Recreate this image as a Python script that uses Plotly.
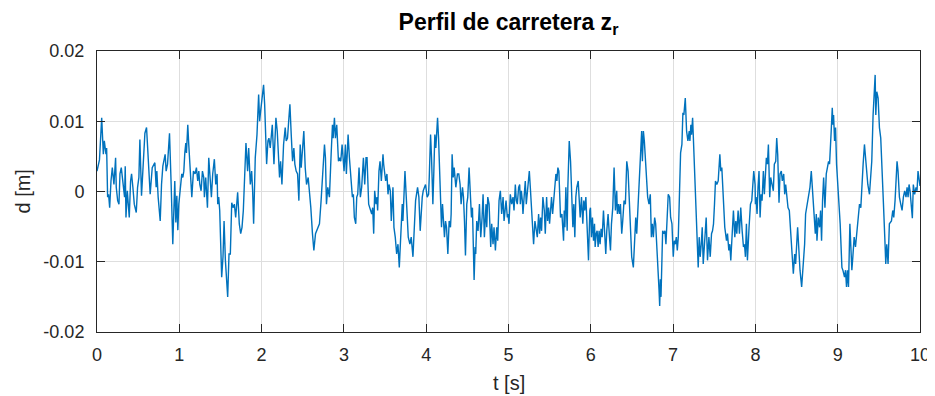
import plotly.graph_objects as go

# time [s]
t_s = [0.0, 0.03, 0.057, 0.077, 0.089, 0.109, 0.117, 0.129, 0.141, 0.154, 0.170, 0.186, 0.206, 0.226, 0.234, 0.251, 0.267, 0.279, 0.295, 0.311, 0.323, 0.335, 0.343, 0.352, 0.368, 0.392, 0.408, 0.420, 0.436, 0.453, 0.477, 0.493, 0.509, 0.521, 0.541, 0.566, 0.582, 0.602, 0.614, 0.630, 0.646, 0.671, 0.703, 0.719, 0.727, 0.743, 0.768, 0.784, 0.800, 0.828, 0.840, 0.857, 0.881, 0.901, 0.921, 0.945, 0.958, 0.970, 0.982,
       0.994, 1.014, 1.030, 1.043, 1.055, 1.067, 1.079, 1.087, 1.103, 1.115, 1.131, 1.152, 1.172, 1.192, 1.208, 1.224, 1.237, 1.249, 1.265, 1.281, 1.297, 1.305, 1.321, 1.342, 1.358, 1.374, 1.390, 1.406, 1.426, 1.443, 1.459, 1.467, 1.479, 1.491, 1.503, 1.515, 1.531, 1.544, 1.560, 1.588, 1.604, 1.620, 1.637, 1.653, 1.669, 1.685, 1.709, 1.729, 1.746, 1.762, 1.778, 1.794, 1.810, 1.830, 1.843, 1.863, 1.879, 1.891, 1.903, 1.923, 1.944, 1.964,
       1.976, 1.988, 2.008, 2.024, 2.037, 2.049, 2.061, 2.077, 2.089, 2.105, 2.130, 2.150, 2.174, 2.190, 2.206, 2.218, 2.231, 2.247, 2.267, 2.287, 2.299, 2.315, 2.332, 2.344, 2.360, 2.376, 2.392, 2.404, 2.420, 2.437, 2.453, 2.469, 2.481, 2.513, 2.530, 2.546, 2.566, 2.578, 2.598, 2.618, 2.635, 2.655, 2.683, 2.703, 2.723, 2.764, 2.776, 2.788, 2.804, 2.824, 2.845, 2.861, 2.869, 2.885, 2.897, 2.913, 2.934, 2.950, 2.962, 2.978,
       3.002, 3.018, 3.030, 3.051, 3.067, 3.079, 3.091, 3.103, 3.115, 3.127, 3.144, 3.156, 3.168, 3.184, 3.200, 3.216, 3.237, 3.253, 3.269, 3.281, 3.301, 3.317, 3.338, 3.350, 3.362, 3.374, 3.390, 3.402, 3.410, 3.426, 3.439, 3.455, 3.475, 3.483, 3.507, 3.523, 3.536, 3.548, 3.564, 3.576, 3.596, 3.608, 3.624, 3.641, 3.657, 3.673, 3.689, 3.701, 3.709, 3.717, 3.742, 3.762, 3.782, 3.802, 3.818, 3.839, 3.855, 3.871, 3.895, 3.911, 3.927, 3.940, 3.952, 3.964, 3.976, 3.992,
       4.012, 4.029, 4.037, 4.053, 4.065, 4.081, 4.093, 4.105, 4.117, 4.138, 4.150, 4.162, 4.174, 4.186, 4.198, 4.210, 4.222, 4.235, 4.247, 4.263, 4.279, 4.295, 4.303, 4.315, 4.328, 4.340, 4.360, 4.380, 4.396, 4.412, 4.424, 4.441, 4.453, 4.465, 4.477, 4.493, 4.505, 4.521, 4.538, 4.550, 4.562, 4.570, 4.582, 4.594, 4.602, 4.614, 4.630, 4.647, 4.663, 4.679, 4.691, 4.707, 4.727, 4.736, 4.748, 4.764, 4.784, 4.796, 4.812, 4.824, 4.841, 4.857, 4.869, 4.885, 4.901, 4.917, 4.934, 4.946, 4.970, 4.986,
       4.994, 5.006, 5.022, 5.039, 5.055, 5.067, 5.083, 5.095, 5.107, 5.123, 5.136, 5.144, 5.156, 5.168, 5.176, 5.192, 5.204, 5.216, 5.233, 5.253, 5.265, 5.277, 5.289, 5.305, 5.321, 5.338, 5.350, 5.366, 5.378, 5.390, 5.402, 5.418, 5.435, 5.447, 5.463, 5.475, 5.487, 5.499, 5.511, 5.523, 5.536, 5.552, 5.564, 5.576, 5.588, 5.600, 5.612, 5.620, 5.632, 5.649, 5.669, 5.677, 5.685, 5.697, 5.713, 5.721, 5.738, 5.754, 5.766, 5.782, 5.794, 5.806, 5.818, 5.830, 5.847, 5.859, 5.871, 5.887, 5.903, 5.915, 5.927, 5.940, 5.952, 5.972, 5.988,
       5.996, 6.008, 6.020, 6.033, 6.045, 6.053, 6.065, 6.077, 6.089, 6.101, 6.113, 6.125, 6.138, 6.154, 6.166, 6.182, 6.194, 6.210, 6.227, 6.239, 6.251, 6.267, 6.283, 6.299, 6.315, 6.323, 6.336, 6.348, 6.360, 6.376, 6.388, 6.404, 6.420, 6.437, 6.453, 6.469, 6.481, 6.497, 6.517, 6.534, 6.546, 6.558, 6.574, 6.582, 6.594, 6.606, 6.618, 6.627, 6.639, 6.651, 6.671, 6.691, 6.707, 6.723, 6.736, 6.748, 6.760, 6.776, 6.788, 6.804, 6.820, 6.829, 6.837, 6.845, 6.853, 6.865, 6.873, 6.889, 6.901, 6.913, 6.929, 6.941, 6.958, 6.970, 6.986,
       6.994, 7.002, 7.014, 7.026, 7.039, 7.051, 7.063, 7.075, 7.083, 7.091, 7.107, 7.119, 7.131, 7.148, 7.164, 7.180, 7.196, 7.204, 7.216, 7.224, 7.237, 7.249, 7.261, 7.277, 7.293, 7.305, 7.317, 7.329, 7.342, 7.354, 7.366, 7.378, 7.390, 7.402, 7.418, 7.435, 7.451, 7.467, 7.479, 7.491, 7.503, 7.515, 7.531, 7.548, 7.568, 7.580, 7.592, 7.604, 7.616, 7.628, 7.649, 7.661, 7.677, 7.689, 7.701, 7.717, 7.733, 7.750, 7.762, 7.774, 7.790, 7.806, 7.822, 7.839, 7.855, 7.867, 7.879, 7.891, 7.903, 7.923, 7.940, 7.956, 7.980, 7.996,
       8.000, 8.008, 8.020, 8.032, 8.044, 8.057, 8.069, 8.081, 8.097, 8.109, 8.121, 8.133, 8.146, 8.158, 8.174, 8.186, 8.202, 8.218, 8.230, 8.247, 8.259, 8.271, 8.287, 8.299, 8.315, 8.327, 8.344, 8.356, 8.368, 8.384, 8.396, 8.412, 8.424, 8.437, 8.449, 8.461, 8.477, 8.489, 8.513, 8.525, 8.542, 8.562, 8.582, 8.598, 8.610, 8.622, 8.651, 8.663, 8.679, 8.695, 8.715, 8.728, 8.740, 8.748, 8.764, 8.780, 8.792, 8.804, 8.816, 8.829, 8.845, 8.861, 8.889, 8.901, 8.921, 8.934, 8.942, 8.950, 8.962, 8.974, 8.986,
       8.998, 9.014, 9.030, 9.051, 9.063, 9.083, 9.095, 9.107, 9.119, 9.131, 9.148, 9.160, 9.172, 9.184, 9.200, 9.216, 9.228, 9.241, 9.253, 9.265, 9.281, 9.297, 9.309, 9.325, 9.338, 9.350, 9.366, 9.386, 9.402, 9.414, 9.430, 9.443, 9.455, 9.463, 9.475, 9.491, 9.507, 9.523, 9.539, 9.556, 9.572, 9.584, 9.596, 9.612, 9.628, 9.653, 9.669, 9.681, 9.697, 9.709, 9.721, 9.733, 9.750, 9.766, 9.782, 9.798, 9.814, 9.830, 9.843, 9.855, 9.867, 9.879, 9.895, 9.907, 9.919, 9.935, 9.952, 9.964, 9.976, 10.0]

# road profile z_r [mm]
z_mm = [2.9, 4.5, 10.5, 5.3, 7.2, 5.3, 6.2, -0.8, -0.4, -2.3, 1.5, 3.4, 1.0, 4.8, 0.6, -1.3, -1.8, 2.5, 3.4, 1.5, 0.6, -0.8, 3.6, -3.7, 0.1, -3.7, 1.5, 2.5, 0.6, -1.8, -3.0, 0.6, 2.0, 7.4, -0.6, 5.3, 8.3, 9.1, 6.9, 3.9, -0.4, 3.4, 4.1, 0.6, 2.9, -0.8, -4.2, 1.0, 3.6, 5.3, 2.9, 3.9, 8.3, 1.0, -7.5, 1.5, -4.4, -0.6, -5.5,
        -1.8, 1.0, 2.5, 2.0, 2.9, 5.5, 6.9, 5.5, 9.5, 6.7, 2.9, -0.8, 2.9, 2.5, 3.4, 1.5, 2.9, 1.0, 0.1, 2.9, 2.0, -0.8, 2.0, -2.3, 4.8, 1.5, -0.8, 2.5, 4.6, 1.0, 2.5, -1.8, -0.8, -2.7, -7.5, -12.2, -9.3, -4.2, -9.8, -15.0, -8.9, -8.9, -1.6, -2.3, -1.8, -3.7, -0.1, -4.6, -6.0, -5.1, -2.7, 2.0, 6.9, 2.9, 6.2, 1.0, 2.9, 0.1, -4.6, 4.8, 8.1, 13.8,
        10.0, 11.4, 13.3, 15.2, 12.4, 8.6, 3.9, 7.2, 7.6, 6.2, 9.5, 3.9, 10.5, 8.6, 4.3, 2.0, 4.3, 1.0, 6.7, 9.1, 7.2, 7.6, 10.5, 12.4, 8.1, 4.3, 6.2, 3.9, 2.9, 2.5, -1.3, 6.7, 3.4, 8.6, 3.4, 1.0, 2.0, 0.6, -2.3, -6.0, -8.4, -6.0, -5.1, -4.6, -1.3, 6.7, 4.8, -1.8, 0.6, -0.8, 5.3, 9.5, 7.6, 10.5, 7.6, 9.5, 4.3, 4.8, 4.3, 6.7,
        2.9, 6.7, 2.5, 8.1, 4.8, 2.9, 0.6, -0.8, -0.4, -3.7, -4.6, -0.8, -0.4, 3.4, -0.8, 0.6, 4.8, 1.0, 4.8, 4.8, -1.8, -2.3, -3.2, -2.3, -6.0, 0.1, -1.8, -0.8, -2.7, 2.9, 4.3, 1.5, 5.3, 3.9, 1.5, 2.5, -0.4, 1.0, 0.1, -4.2, 0.6, -5.1, -6.5, -8.9, -7.5, -10.8, -6.5, -3.7, -1.8, -4.2, 2.9, -1.8, -6.5, -7.5, -6.5, -9.3, -4.2, -1.3, 0.6, -0.8, -5.6, -1.8, -0.8, 0.1, 0.6, 1.0,
        -0.8, -0.4, 2.0, 8.1, 4.8, -1.8, 2.9, 8.1, 6.2, 10.5, 7.6, 3.4, 0.6, -5.1, -1.8, -4.2, -6.5, -4.2, -5.1, -8.9, -4.2, -5.1, -3.2, 5.3, 2.0, 3.4, 0.6, 2.5, 2.5, 1.0, -1.8, 0.6, -0.8, -4.2, -9.1, -1.8, -0.8, 3.4, -1.8, -3.7, -2.3, -6.5, -12.6, -7.9, -8.9, -4.2, -5.6, -1.8, -6.5, -3.7, -0.4, -6.5, -1.8, -5.1, -0.8, -1.8, -7.9, -4.6, -7.5, -5.1, -8.4, -5.1, -7.0, -1.3, 0.1, -3.2, -0.8, -4.2, -1.3, -3.7,
        -3.2, -4.6, -0.4, -1.8, -0.8, -2.7, 1.0, -1.3, -1.8, 0.6, 1.0, -1.8, 0.1, -1.3, -3.2, -0.4, 1.5, -1.8, 0.1, 2.9, 0.6, -2.3, -5.1, -7.5, -4.2, -5.6, -6.5, -3.2, -6.0, -3.7, -5.6, -0.8, -2.7, -6.0, -0.8, -4.2, -2.3, -4.6, -1.8, -0.8, -3.2, -0.4, 1.0, 2.5, 1.5, 3.4, 2.9, -0.8, -3.7, -3.2, -7.0, -2.7, -5.1, 0.6, -5.6, 0.6, 7.2, 4.3, -0.8, -5.1, -1.8, -6.5, -0.8, 0.6, 1.5, -0.4, -3.7, -0.8, -4.6, -1.3, -2.7, -0.8, -4.6, -9.8, -2.7,
        -2.3, -6.5, -3.7, -7.0, -4.6, -7.9, -6.0, -5.6, -7.9, -5.6, -7.5, -5.3, -6.5, -2.7, -5.6, -8.9, -5.6, -3.2, -6.5, -8.4, -4.6, -2.3, 3.4, -2.7, 0.1, -3.2, -1.8, -3.2, -1.8, -6.0, -4.2, -1.3, -1.8, 4.3, 2.9, -0.8, -3.7, -9.3, -10.8, -5.6, -3.7, -6.0, -1.8, 0.1, 2.9, 4.8, 8.6, 4.3, 8.6, 7.1, 2.0, -0.8, -1.8, -0.4, -6.5, -4.6, -6.5, -3.7, -4.6, -9.3, -12.2, -14.0, -16.3, -12.5, -15.0, -9.3, -5.6, -6.0, -5.6, -7.5, -3.7, -0.4, -0.8, -3.7, -4.6,
        -6.5, -9.3, -7.0, -7.5, -6.5, -8.4, -6.5, -1.8, 3.4, 5.5, 6.7, 11.2, 10.9, 13.3, 8.6, 7.2, 8.6, 7.2, 9.5, 8.1, 10.5, 6.7, 0.6, -3.2, -7.0, -10.8, -6.5, -9.3, -7.5, -5.1, -10.3, -8.4, -5.1, -3.7, -9.8, -6.5, -9.3, -6.0, -5.6, -4.6, -1.8, 1.5, 1.0, 1.5, 5.3, 2.9, 3.4, -0.4, -3.2, -5.1, -7.0, -6.0, -8.4, -7.5, -9.8, -6.5, -2.7, -6.5, -4.2, -6.0, -2.7, -6.0, -2.3, -5.6, -7.9, -7.5, -9.3, -4.6, -9.8, -5.1, -1.8, -1.3, 2.9, 1.0,
        -1.8, -0.8, -3.2, 0.6, 2.9, -3.7, -0.4, -1.3, 2.9, -0.4, 1.5, 4.8, 3.9, 6.7, -0.8, 2.0, 1.0, 0.1, 3.9, 4.3, 7.6, 5.3, -1.6, 2.5, 2.9, 1.5, 2.5, -0.4, 1.0, -0.8, -2.3, -2.7, -5.1, -7.9, -9.3, -11.7, -8.9, -10.3, -5.1, -8.4, -11.2, -13.6, -9.8, -7.5, -3.2, -2.3, -0.8, 0.6, 2.9, -0.4, -3.2, -6.0, -3.2, -7.0, -3.7, -5.1, -2.7, -7.0, -1.3, 2.0, -2.3, 2.5, 4.3, 3.9, 8.6, 11.9, 9.5, 10.9, 7.2, 9.1, 3.9,
        1.5, -2.7, -4.6, -10.8, -11.2, -12.2, -11.2, -13.6, -11.2, -13.6, -4.6, -7.9, -11.2, -9.3, -6.5, -7.9, -6.5, -4.6, -3.7, -1.8, -2.3, 2.5, 3.9, 6.7, 4.8, 2.5, 1.0, -0.4, 2.9, 4.3, 10.9, 14.2, 16.6, 10.9, 14.2, 13.3, 9.1, 7.6, 3.9, -1.8, -6.5, -10.3, -7.5, -10.3, -4.6, -4.2, -2.7, -3.7, -1.3, 1.5, 4.3, 2.9, -0.8, -1.8, -2.7, -0.8, 0.1, -0.8, 0.6, -0.8, 1.0, 0.1, -2.3, -3.8, 1.0, -0.4, 0.6, 0.1, 2.9, 0.8]

x_ticks = [0, 1, 2, 3, 4, 5, 6, 7, 8, 9, 10]
y_ticks = [-0.02, -0.01, 0, 0.01, 0.02]
y_tick_labels = ["-0.02", "-0.01", "0", "0.01", "0.02"]

z_m = [v / 1000.0 for v in z_mm]

FONT = "Liberation Sans, Arial, Helvetica, sans-serif"
AX = "#262626"

fig = go.Figure()
fig.add_trace(go.Scatter(x=t_s, y=z_m, mode="lines",
                         line=dict(color="#0072BD", width=1.4),
                         showlegend=False, hoverinfo="skip"))

common = dict(showline=True, linecolor=AX, linewidth=1, mirror="ticks",
              ticks="inside", ticklen=8, tickwidth=1, tickcolor=AX,
              showgrid=True, gridcolor="#dedede", gridwidth=1,
              zeroline=False, automargin=False,
              tickfont=dict(family=FONT, size=18, color=AX))

fig.update_xaxes(range=[0, 10], tickvals=x_ticks, ticklabelstandoff=6, **common)
fig.update_yaxes(range=[-0.02, 0.02], tickvals=y_ticks, ticktext=y_tick_labels,
                 ticklabelstandoff=8, **common)

# page body adds an 8px offset; figure is sized so the plot box lands at x 97-920, y 51-332
fig.update_layout(
    width=927, height=388,
    margin=dict(l=89, r=15, t=43, b=64),
    paper_bgcolor="white", plot_bgcolor="white",
    title=dict(text="<b>Perfil de carretera z<sub>r</sub></b>",
               font=dict(family=FONT, size=23, color="black"),
               x=0.5, xref="paper", xanchor="center",
               y=0.964, yanchor="middle", yref="container"),
    annotations=[
        dict(text="t [s]", xref="paper", yref="paper", x=0.5, y=-0.1815,
             xanchor="center", yanchor="middle", showarrow=False,
             font=dict(family=FONT, size=20, color=AX)),
        dict(text="d [m]", xref="paper", yref="paper", x=-0.0911, y=0.5,
             xanchor="center", yanchor="middle", showarrow=False, textangle=-90,
             font=dict(family=FONT, size=20, color=AX)),
    ],
)

fig.write_html("out.html")
